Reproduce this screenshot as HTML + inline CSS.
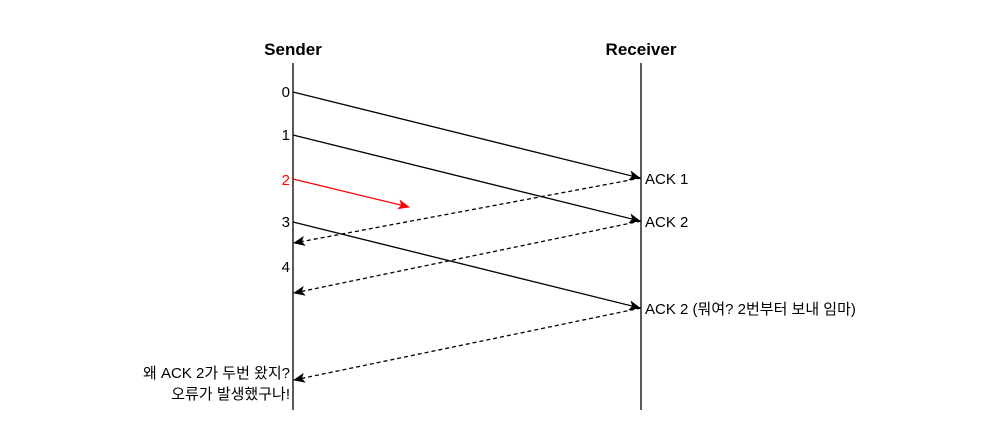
<!DOCTYPE html>
<html><head><meta charset="utf-8"><style>
body{margin:0;background:#fff;}
svg text{font-family:"Liberation Sans","Noto Sans CJK KR",sans-serif;font-size:15px;}
</style></head><body>
<svg width="988" height="443" viewBox="0 0 988 443" xmlns="http://www.w3.org/2000/svg">
<defs>
<marker id="a" markerWidth="12" markerHeight="10" refX="11" refY="5" orient="auto" markerUnits="userSpaceOnUse">
<path d="M0,0 L12,5 L0,10 L3,5 Z" fill="#000"/></marker>
<marker id="r" markerWidth="12" markerHeight="10" refX="11" refY="5" orient="auto" markerUnits="userSpaceOnUse">
<path d="M0,0 L12,5 L0,10 L3,5 Z" fill="#f00"/></marker>
</defs>
<text x="293" y="55" text-anchor="middle" font-weight="bold" style="font-size:17px">Sender</text>
<text x="641" y="55" text-anchor="middle" font-weight="bold" style="font-size:17px">Receiver</text>
<line x1="293" y1="63" x2="293" y2="410" stroke="#000" stroke-width="1.3"/>
<line x1="641" y1="63" x2="641" y2="410" stroke="#000" stroke-width="1.3"/>
<g text-anchor="end">
<text x="290" y="97">0</text>
<text x="290" y="140">1</text>
<text x="290" y="185" fill="#f00">2</text>
<text x="290" y="227">3</text>
<text x="290" y="272">4</text>
<text x="290" y="378">왜 ACK 2가 두번 왔지?</text>
<text x="290" y="399">오류가 발생했구나!</text>
</g>
<text x="645" y="184">ACK 1</text>
<text x="645" y="227">ACK 2</text>
<text x="645" y="314">ACK 2 (뭐여? 2번부터 보내 임마)</text>
<g stroke="#000" stroke-width="1.3" fill="none">
<line x1="293" y1="92" x2="640" y2="178" marker-end="url(#a)"/>
<line x1="293" y1="135" x2="640" y2="221" marker-end="url(#a)"/>
<line x1="293" y1="222" x2="640" y2="308" marker-end="url(#a)"/>
<g stroke-dasharray="4,3">
<line x1="641" y1="178" x2="294" y2="243" marker-end="url(#a)"/>
<line x1="641" y1="221" x2="294" y2="293" marker-end="url(#a)"/>
<line x1="641" y1="308" x2="294" y2="380" marker-end="url(#a)"/>
</g>
</g>
<line x1="293" y1="179" x2="409" y2="207" stroke="#f00" stroke-width="1.3" marker-end="url(#r)"/>
</svg>
</body></html>
